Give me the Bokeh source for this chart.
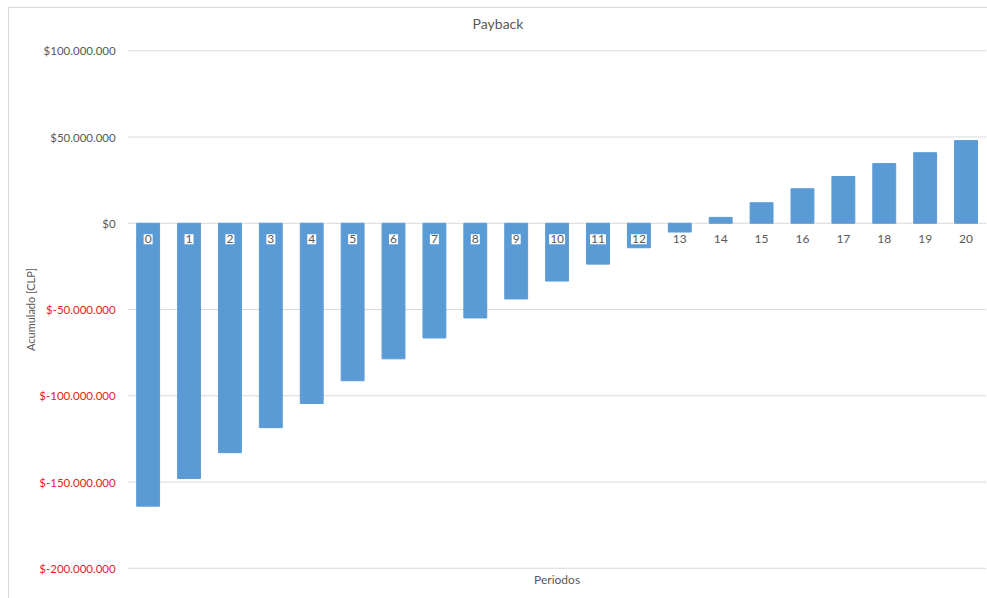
from bokeh.plotting import figure
from bokeh.models import Range1d
from bokeh.core.properties import value
from bokeh.embed import file_html
from bokeh.resources import INLINE

periods = list(range(21))
acumulado = [-164e6, -148e6, -133e6, -118.5e6, -104.5e6, -91.3e6, -78.6e6, -66.5e6,
             -54.9e6, -43.9e6, -33.5e6, -23.7e6, -14.2e6, -5.1e6, 3.4e6, 11.9e6,
             20.0e6, 27.1e6, 34.6e6, 40.9e6, 47.9e6]
y_ticks = [-200e6, -150e6, -100e6, -50e6, 0, 50e6, 100e6]

FONT = "Lato"
GRAY = "#595959"
RED = "#e8221e"
GRID = "#d9d9d9"


def fmt(v):
    s = f"{abs(int(v)):,}".replace(",", ".")
    return "$" + ("-" if v < 0 else "") + s


x_lo, x_hi = periods[0] - 0.5, periods[-1] + 0.5
y_lo, y_hi = y_ticks[0], y_ticks[-1]
y_pad = 10e6      # room so the edge gridlines and their labels are not clipped
x_pad = 2.89      # room left of the bars for the value labels and axis title

p = figure(width=979, height=591, output_backend="svg", toolbar_location=None,
           x_range=Range1d(x_lo - x_pad, x_hi), y_range=Range1d(y_lo - y_pad, y_hi + y_pad),
           min_border_left=0, min_border_right=2, min_border_top=25, min_border_bottom=14,
           margin=(7, 0, 0, 8),
           styles={"border-left": "1px solid #d9d9d9", "border-top": "1px solid #d9d9d9"})
p.outline_line_color = None
p.xaxis.visible = False
p.yaxis.visible = False
p.xgrid.visible = False
p.ygrid.visible = False

p.title.text = "Payback"
p.title.align = "center"
p.title.offset = -53
p.title.text_font = FONT
p.title.text_font_size = "14px"
p.title.text_font_style = "normal"
p.title.text_color = GRAY
p.title.standoff = 4

# gridlines
p.segment(x0=[x_lo] * len(y_ticks), x1=[x_hi] * len(y_ticks), y0=y_ticks, y1=y_ticks,
          line_color=GRID, line_width=1)

# bars
p.vbar(x=periods, top=acumulado, bottom=0, width=0.56, color="#5b9bd5")

# category labels at the zero line
p.text(x=periods, y=[0] * len(periods), text=[str(i) for i in periods],
       y_offset=16, text_align="center", text_baseline="middle",
       text_font=value(FONT), text_font_size="12px", text_color=GRAY,
       background_fill_color="white", padding=1)

# value axis labels
p.text(x=[x_lo] * len(y_ticks), y=y_ticks, text=[fmt(v) for v in y_ticks],
       x_offset=-12, text_align="right", text_baseline="middle",
       text_font=value(FONT), text_font_size="11.5px",
       text_color=[RED if v < 0 else GRAY for v in y_ticks])

# axis titles
p.text(x=[x_lo], y=[(y_lo + y_hi) / 2], text=["Acumulado [CLP]"], x_offset=-97,
       angle=1.5708, text_align="center", text_baseline="middle",
       text_font=value(FONT), text_font_size="11px", text_color=GRAY)
p.text(x=[(x_lo + x_hi) / 2], y=[y_lo], text=["Periodos"], y_offset=11,
       text_align="center", text_baseline="middle",
       text_font=value(FONT), text_font_size="12px", text_color=GRAY)

open("out.html", "w").write(file_html(p, INLINE))
